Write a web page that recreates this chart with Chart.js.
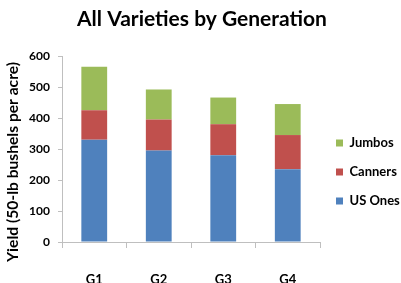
<!DOCTYPE html>
<html><head><meta charset="utf-8">
<script src="https://cdn.jsdelivr.net/npm/chart.js@4"></script>
<style>html,body{margin:0;padding:0;background:#fff}#wrap{width:401px;height:283px}</style>
</head><body><div id="wrap"><canvas id="c" width="401" height="283"></canvas></div>
<script>
const categories = ["G1", "G2", "G3", "G4"];
const usOnes = [330, 295, 280, 235];
const canners = [95, 100, 100, 110];
const jumbos = [140, 97, 86, 100];
const yTicks = [0, 100, 200, 300, 400, 500, 600];
const yTitle = 'Yield (50-lb bushels per acre)';

const FONT = "Lato, 'Open Sans', sans-serif";

// y-axis title drawn rotated beside the axis (it is longer than the axis itself)
const yTitlePlugin = {
  id: 'yTitlePlugin',
  afterDraw(chart) {
    const ca = chart.chartArea, ctx = chart.ctx;
    ctx.save();
    ctx.font = 'bold 15px ' + FONT;
    const w = ctx.measureText(yTitle).width;
    const size = 15 * Math.min(1.15, Math.max(0.85, 200 / w));
    ctx.font = 'bold ' + size.toFixed(2) + 'px ' + FONT;
    ctx.translate(ca.left - 49.5, (ca.top + ca.bottom) / 2 + 13);
    ctx.rotate(-Math.PI / 2);
    ctx.textAlign = 'center';
    ctx.textBaseline = 'middle';
    ctx.fillStyle = '#000';
    ctx.fillText(yTitle, 0, 0);
    ctx.restore();
  }
};

new Chart(document.getElementById('c'), {
  type: 'bar',
  data: {
    labels: categories,
    datasets: [
      { label: 'US Ones', data: usOnes, backgroundColor: '#4F81BD' },
      { label: 'Canners', data: canners, backgroundColor: '#C0504D' },
      { label: 'Jumbos', data: jumbos, backgroundColor: '#9BBB59' }
    ]
  },
  plugins: [yTitlePlugin],
  options: {
    responsive: false,
    animation: false,
    layout: { padding: { left: 3, right: 0, top: 0, bottom: 0 } },
    datasets: { bar: { barPercentage: 0.4, categoryPercentage: 1.0 } },
    plugins: {
      tooltip: { enabled: false },
      title: {
        display: true, text: 'All Varieties by Generation', color: '#000',
        font: { family: FONT, size: 21, weight: 'bold' },
        padding: { top: 7, bottom: 23.8 }
      },
      legend: {
        position: 'right',
        align: 'start',
        reverse: true,
        maxWidth: 81,
        title: { display: true, text: ' ', font: { size: 10 }, padding: { top: 108.5, bottom: 0 } },
        labels: {
          boxWidth: 7, boxHeight: 7, padding: 16, color: '#000',
          font: { family: FONT, size: 13, weight: 'bold' }
        }
      }
    },
    scales: {
      x: {
        stacked: true,
        grid: { drawOnChartArea: false, tickLength: 6, color: '#BFBFBF' },
        border: { color: '#BFBFBF' },
        ticks: { color: '#000', padding: 24, font: { family: FONT, size: 13, weight: 'bold' } },
        afterFit: (s) => { s.height = 41; }
      },
      y: {
        stacked: true, min: 0, max: 600,
        afterBuildTicks: (s) => { s.ticks = yTicks.map(v => ({ value: v })); },
        grid: { drawOnChartArea: false, tickLength: 4, color: '#BFBFBF' },
        border: { color: '#BFBFBF' },
        ticks: { color: '#000', padding: 8, font: { family: FONT, size: 12, weight: 'bold' } },
        title: { display: false, text: yTitle },
        afterFit: (s) => { s.width = 59; }
      }
    }
  }
});
</script></body></html>
